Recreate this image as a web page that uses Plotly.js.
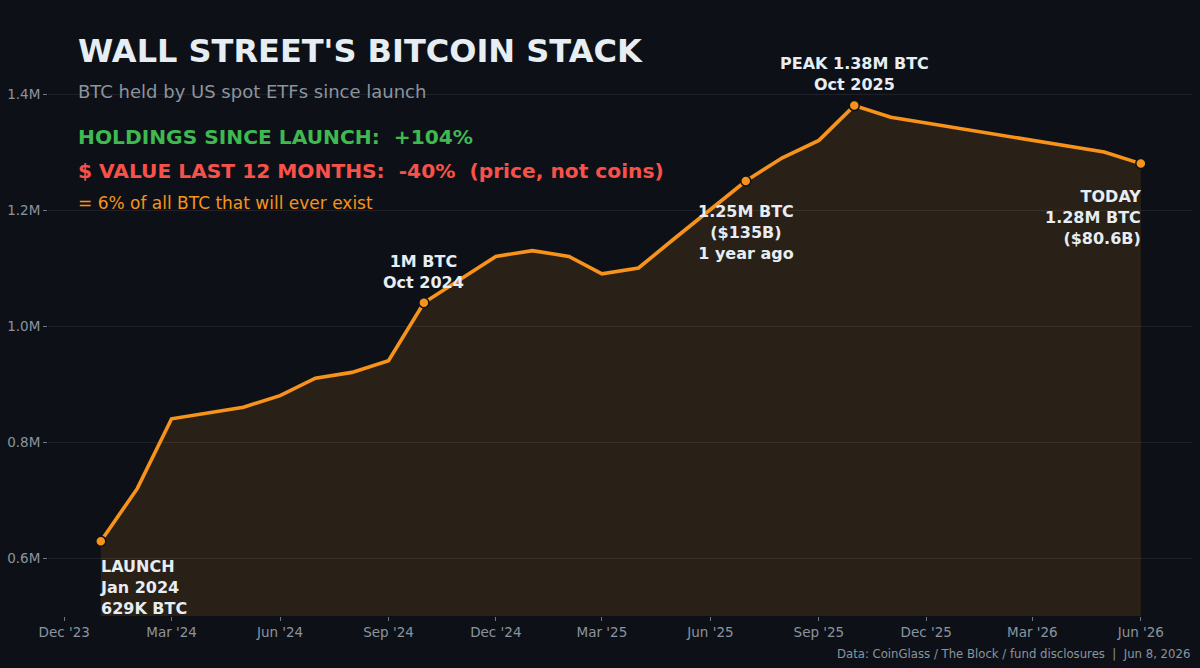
<!DOCTYPE html>
<html>
<head>
<meta charset="utf-8">
<script src="https://cdn.plot.ly/plotly-3.0.1.min.js"></script>
<style>
  html, body { margin: 0; padding: 0; background: #0d1117; }
  #chart { width: 1200px; height: 668px; }
</style>
</head>
<body>
<div id="chart"></div>
<script>
// ---- data ----
const months = [
  '2024-01-01','2024-02-01','2024-03-01','2024-04-01','2024-05-01','2024-06-01',
  '2024-07-01','2024-08-01','2024-09-01','2024-10-01','2024-11-01','2024-12-01',
  '2025-01-01','2025-02-01','2025-03-01','2025-04-01','2025-05-01','2025-06-01',
  '2025-07-01','2025-08-01','2025-09-01','2025-10-01','2025-11-01','2025-12-01',
  '2026-01-01','2026-02-01','2026-03-01','2026-04-01','2026-05-01','2026-06-01'
];
const btcHeld = [
  629000, 720000, 840000, 850000, 860000, 880000,
  910000, 920000, 940000, 1040000, 1080000, 1120000,
  1130000, 1120000, 1090000, 1100000, 1150000, 1200000,
  1250000, 1290000, 1320000, 1380000, 1360000, 1350000,
  1340000, 1330000, 1320000, 1310000, 1300000, 1280000
];
const keyIdx = [0, 9, 18, 21, 29];
const keyLabels = [
  'LAUNCH<br>Jan 2024<br>629K BTC',
  '1M BTC<br>Oct 2024',
  '1.25M BTC<br>($135B)<br>1 year ago',
  'PEAK 1.38M BTC<br>Oct 2025',
  'TODAY<br>1.28M BTC<br>($80.6B)'
];
const xTickVals = ['2023-12-01','2024-03-01','2024-06-01','2024-09-01','2024-12-01',
  '2025-03-01','2025-06-01','2025-09-01','2025-12-01','2026-03-01','2026-06-01'];
const xTickText = ["Dec '23","Mar '24","Jun '24","Sep '24","Dec '24",
  "Mar '25","Jun '25","Sep '25","Dec '25","Mar '26","Jun '26"];
const yTickVals = [600000, 800000, 1000000, 1200000, 1400000];
const yTickText = ['0.6M','0.8M','1.0M','1.2M','1.4M'];

// ---- styling ----
const BG = '#0d1117';
const ORANGE = '#f7931a';
const GRAY = '#8b949e';
const WHITE = '#e6edf3';
const FONT = 'DejaVu Sans, sans-serif';

const lineTrace = {
  x: months, y: btcHeld, type: 'scatter', mode: 'lines',
  line: { color: ORANGE, width: 3.6 },
  fill: 'tozeroy', fillcolor: 'rgba(247,147,26,0.12)',
  hoverinfo: 'skip'
};
const keyTrace = {
  x: keyIdx.map(i => months[i]), y: keyIdx.map(i => btcHeld[i]),
  type: 'scatter', mode: 'markers',
  marker: { color: ORANGE, size: 10, line: { color: BG, width: 1.5 } },
  hoverinfo: 'skip'
};

const keyPos = [
  { xanchor: 'left',   yanchor: 'top',    align: 'left',   xshift: -3, yshift: -14 },
  { xanchor: 'center', yanchor: 'bottom', align: 'center', xshift: 0,  yshift: 9 },
  { xanchor: 'center', yanchor: 'top',    align: 'center', xshift: 0,  yshift: -19 },
  { xanchor: 'center', yanchor: 'bottom', align: 'center', xshift: 0,  yshift: 10 },
  { xanchor: 'right',  yanchor: 'top',    align: 'right',  xshift: 2,  yshift: -21 }
];

const annotations = keyIdx.map((idx, k) => Object.assign({
  x: months[idx], y: btcHeld[idx], xref: 'x', yref: 'y',
  text: keyLabels[k], showarrow: false,
  font: { family: FONT, size: 16, color: WHITE, weight: 'bold' }
}, keyPos[k]));

const px = v => (v - 48) / 1144;
const py = v => (615.7 - v) / 580;

annotations.push(
  { xref: 'paper', yref: 'paper', x: px(76), y: py(50.5), xanchor: 'left', yanchor: 'middle',
    showarrow: false, text: "<b>WALL STREET'S BITCOIN STACK</b>",
    font: { family: FONT, size: 32, color: WHITE } },
  { xref: 'paper', yref: 'paper', x: px(76), y: py(91), xanchor: 'left', yanchor: 'middle',
    showarrow: false, text: 'BTC held by US spot ETFs since launch',
    font: { family: FONT, size: 18, color: GRAY } },
  { xref: 'paper', yref: 'paper', x: px(76), y: py(136.7), xanchor: 'left', yanchor: 'middle',
    showarrow: false, text: '<b>HOLDINGS SINCE LAUNCH: \u00a0+104%</b>',
    font: { family: FONT, size: 20.2, color: '#3fb950' } },
  { xref: 'paper', yref: 'paper', x: px(76), y: py(171), xanchor: 'left', yanchor: 'middle',
    showarrow: false, text: '<b>$ VALUE LAST 12 MONTHS: \u00a0-40% \u00a0(price, not coins)</b>',
    font: { family: FONT, size: 20.2, color: '#f85149' } },
  { xref: 'paper', yref: 'paper', x: px(76), y: py(203), xanchor: 'left', yanchor: 'middle',
    showarrow: false, text: '= 6% of all BTC that will ever exist',
    font: { family: FONT, size: 17, color: ORANGE } },
  { xref: 'paper', yref: 'paper', x: px(1192), y: py(654), xanchor: 'right', yanchor: 'middle',
    showarrow: false, text: 'Data: CoinGlass / The Block / fund disclosures \u00a0| \u00a0Jun 8, 2026',
    font: { family: FONT, size: 11.7, color: GRAY } }
);

const layout = {
  width: 1200, height: 668,
  paper_bgcolor: BG, plot_bgcolor: BG,
  margin: { l: 48, r: 8, t: 35.7, b: 52.3, pad: 0 },
  showlegend: false,
  hovermode: false,
  font: { family: FONT, color: GRAY },
  xaxis: {
    type: 'date',
    range: ['2023-11-17 05:00', '2026-07-14 10:00'],
    tickvals: xTickVals, ticktext: xTickText,
    ticks: 'outside', ticklen: 4, tickwidth: 1, tickcolor: '#6e7681',
    tickfont: { family: FONT, size: 13.5, color: GRAY },
    showgrid: false, zeroline: false, showline: false
  },
  yaxis: {
    range: [500000, 1500000],
    tickvals: yTickVals, ticktext: yTickText,
    ticks: 'outside', ticklen: 4, tickwidth: 1, tickcolor: '#6e7681',
    tickfont: { family: FONT, size: 13.5, color: GRAY },
    showgrid: true, gridcolor: 'rgba(255,255,255,0.07)', gridwidth: 1,
    zeroline: false, showline: false
  },
  annotations: annotations
};

Plotly.newPlot('chart', [lineTrace, keyTrace], layout, { displayModeBar: false, staticPlot: true });
</script>
</body>
</html>
